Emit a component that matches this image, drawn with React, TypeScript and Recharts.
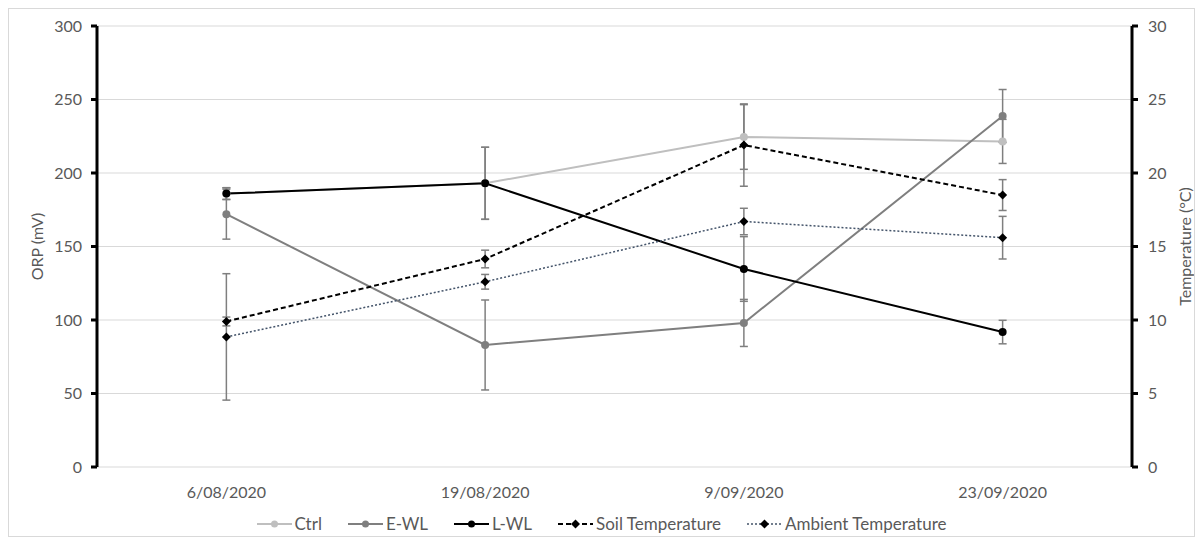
import React from "react";
import {
  ComposedChart,
  Line,
  XAxis,
  YAxis,
  CartesianGrid,
  Legend,
  ErrorBar,
} from "recharts";

const dates = ["6/08/2020", "19/08/2020", "9/09/2020", "23/09/2020"];

const ctrl = [186, 193, 224.5, 221.5];
const ctrlErr = [4, 24.5, 22, 15];
const ewl = [172, 83, 98, 238.8];
const ewlErr = [17, 30.6, 16, 18];
const lwl = [186, 193, 134.7, 91.8];
const lwlErr = [4, 24.5, 22, 8];
const soilTemp = [9.9, 14.15, 21.9, 18.5];
const soilErr = [0.3, 0.6, 2.8, 1.05];
const ambientTemp = [8.85, 12.6, 16.7, 15.6];
const ambientErr = [4.3, 0.5, 0.9, 1.45];

const orpTicks = [0, 50, 100, 150, 200, 250, 300];
const tempTicks = [0, 5, 10, 15, 20, 25, 30];

const data = dates.map((d, i) => ({
  date: d,
  ctrl: ctrl[i],
  ctrlErr: ctrlErr[i],
  ewl: ewl[i],
  ewlErr: ewlErr[i],
  lwl: lwl[i],
  lwlErr: lwlErr[i],
  soil: soilTemp[i],
  soilErr: soilErr[i],
  ambient: ambientTemp[i],
  ambientErr: ambientErr[i],
}));

const TEXT = "#595959";
const ERR = "#7f7f7f";
const FONT = "Lato, 'Noto Sans', sans-serif";

const series = [
  { key: "ctrl", name: "Ctrl", color: "#bfbfbf", dash: undefined, width: 2, marker: "circle", markerColor: "#bfbfbf" },
  { key: "ewl", name: "E-WL", color: "#7f7f7f", dash: undefined, width: 2, marker: "circle", markerColor: "#7f7f7f" },
  { key: "lwl", name: "L-WL", color: "#000000", dash: undefined, width: 2, marker: "circle", markerColor: "#000000" },
  { key: "soil", name: "Soil Temperature", color: "#000000", dash: "5 3", width: 2, marker: "diamond", markerColor: "#000000" },
  { key: "ambient", name: "Ambient Temperature", color: "#44546a", dash: "2 2", width: 1.5, marker: "diamond", markerColor: "#000000" },
];

function diamond(color: string) {
  return (props: any) => {
    const { cx, cy, index } = props;
    if (cx == null || cy == null) return <g key={index} />;
    return (
      <path
        key={index}
        d={`M${cx},${cy - 4.5}L${cx + 4.5},${cy}L${cx},${cy + 4.5}L${cx - 4.5},${cy}Z`}
        fill={color}
        stroke="none"
      />
    );
  };
}

function LegendIcon({ s }: { s: (typeof series)[number] }) {
  return (
    <svg width={35} height={12} style={{ marginRight: 3 }}>
      <line x1={0} y1={6} x2={35} y2={6} stroke={s.color} strokeWidth={s.width} strokeDasharray={s.dash} />
      {s.marker === "circle" ? (
        <circle cx={17.5} cy={6} r={3.5} fill={s.markerColor} />
      ) : (
        <path d="M17.5,1.5L22,6L17.5,10.5L13,6Z" fill={s.markerColor} />
      )}
    </svg>
  );
}

function ChartLegend() {
  return (
    <div
      style={{
        display: "flex",
        justifyContent: "center",
        alignItems: "center",
        gap: 26,
        paddingTop: 4,
        fontSize: 17,
        color: TEXT,
        fontFamily: FONT,
      }}
    >
      {series.map((s) => (
        <div key={s.key} style={{ display: "flex", alignItems: "center" }}>
          <LegendIcon s={s} />
          <span>{s.name}</span>
        </div>
      ))}
    </div>
  );
}

export default function App() {
  return (
    <div
      style={{
        width: 1185,
        height: 527,
        border: "1px solid #d9d9d9",
        background: "#fff",
        fontFamily: FONT,
      }}
    >
      <ComposedChart width={1185} height={527} data={data} margin={{ top: 17, right: 0, bottom: 0, left: 0 }}>
        <CartesianGrid vertical={false} stroke="#d9d9d9" yAxisId="orp" />
        <XAxis
          dataKey="date"
          scale="band"
          axisLine={false}
          tickLine={false}
          tickSize={6}
          tickMargin={14}
          height={42}
          tick={{ fill: TEXT, fontSize: 16 }}
        />
        <YAxis
          yAxisId="orp"
          domain={[0, 300]}
          ticks={orpTicks}
          width={88}
          axisLine={{ stroke: "#000", strokeWidth: 3 }}
          tickLine={{ stroke: "#000", strokeWidth: 3 }}
          tickSize={6}
          tickMargin={9}
          tick={{ fill: TEXT, fontSize: 16 }}
          label={{
            value: "ORP (mV)",
            angle: -90,
            position: "insideLeft",
            offset: 28,
            fill: TEXT,
            fontSize: 16,
            style: { textAnchor: "middle" },
          }}
        />
        <YAxis
          yAxisId="temp"
          orientation="right"
          domain={[0, 30]}
          ticks={tempTicks}
          width={62}
          axisLine={{ stroke: "#000", strokeWidth: 3 }}
          tickLine={{ stroke: "#000", strokeWidth: 3 }}
          tickSize={6}
          tickMargin={10}
          tick={{ fill: TEXT, fontSize: 16 }}
          label={{
            value: "Temperature (°C)",
            angle: -90,
            position: "insideRight",
            offset: 9,
            fill: TEXT,
            fontSize: 16,
            style: { textAnchor: "middle" },
          }}
        />
        <Legend verticalAlign="bottom" height={27} content={() => <ChartLegend />} />
        {series.map((s) => (
          <Line
            key={s.key}
            yAxisId={s.key === "soil" || s.key === "ambient" ? "temp" : "orp"}
            dataKey={s.key}
            name={s.name}
            stroke={s.color}
            strokeWidth={s.width}
            strokeDasharray={s.dash}
            isAnimationActive={false}
            dot={
              s.marker === "circle"
                ? { r: 4, fill: s.markerColor, stroke: s.markerColor, strokeWidth: 0 }
                : diamond(s.markerColor)
            }
            activeDot={false}
          >
            <ErrorBar dataKey={`${s.key}Err`} direction="y" width={4} stroke={ERR} strokeWidth={1.5} />
          </Line>
        ))}
      </ComposedChart>
    </div>
  );
}
